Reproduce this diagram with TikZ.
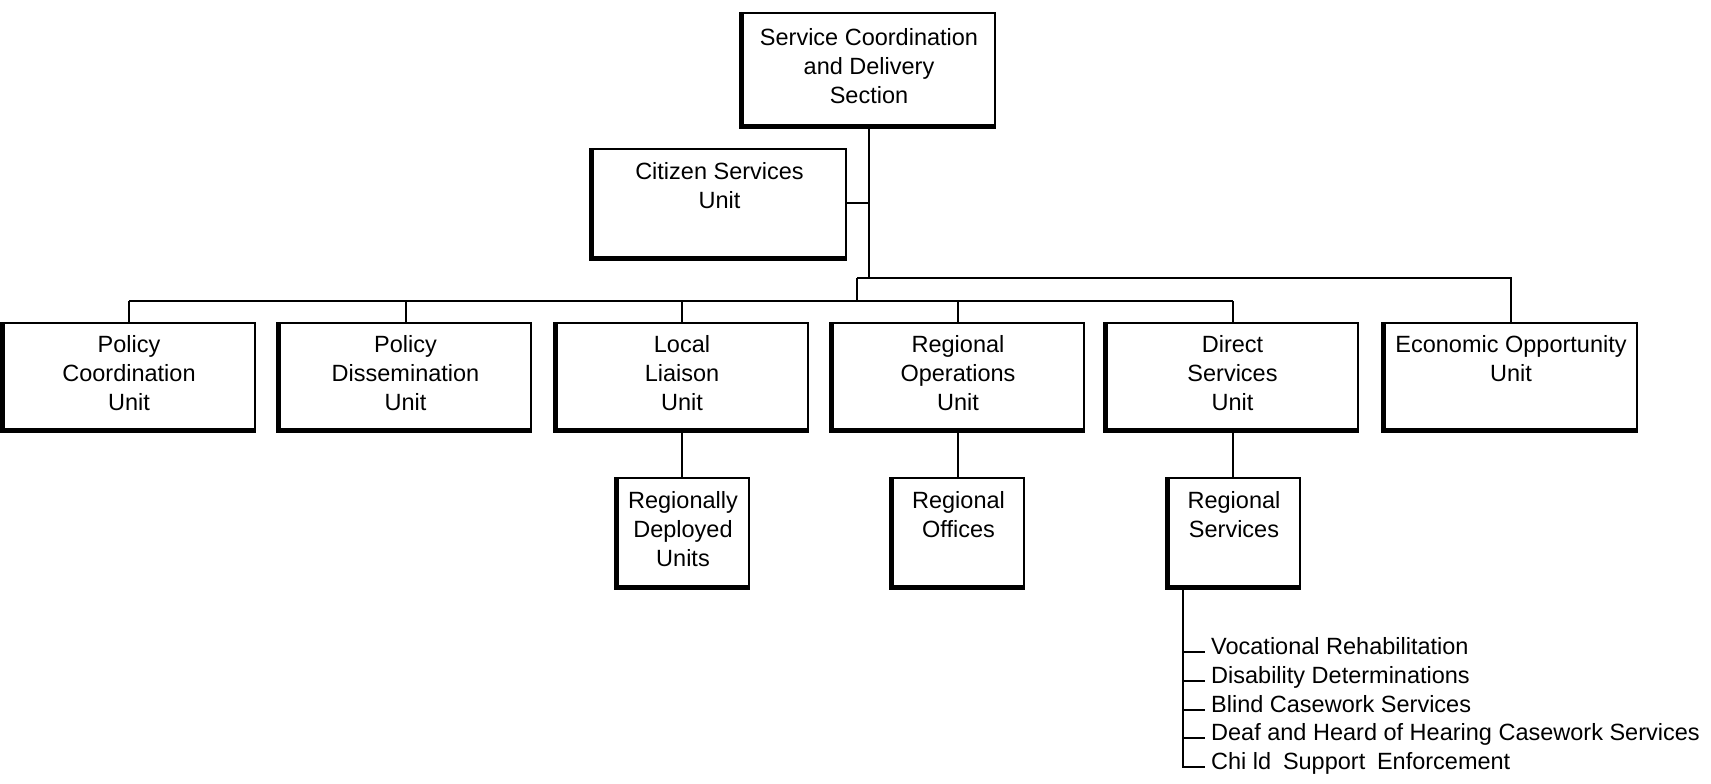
\documentclass[tikz,border=0pt]{standalone}
\usepackage{fontspec}
\setmainfont{Liberation Sans}
\begin{document}
\begin{tikzpicture}[x=1pt,y=-1pt,
  txt/.style={font=\fontsize{23.5}{29}\selectfont},
  unitbox/.style={txt, draw, line width=2pt, align=center, inner sep=0pt, minimum height=106pt},
  wide/.style={unitbox, minimum width=251pt},
  narrow/.style={unitbox, minimum width=131pt, minimum height=108pt},
  link/.style={line width=2pt},
  item/.style={txt, anchor=base west, inner sep=0pt}]
\useasboundingbox (0,0) rectangle (1711,784);

% head of section and staff unit
\node[wide, minimum width=252pt, minimum height=112pt] (top) at (869,69)
  {\strut Service Coordination\\\strut and Delivery\\\strut Section};
\node[wide, minimum width=253pt, minimum height=108pt] (cit) at (719.5,203)
  {\strut Citizen Services\\\strut Unit\\\strut};

% first row of units
\node[wide] (pc) at (129,376)   {\strut Policy\\\strut Coordination\\\strut Unit};
\node[wide] (pd) at (405.5,376) {\strut Policy\\\strut Dissemination\\\strut Unit};
\node[wide] (ll) at (682,376)   {\strut Local\\\strut Liaison\\\strut Unit};
\node[wide] (ro) at (958,376)   {\strut Regional\\\strut Operations\\\strut Unit};
\node[wide] (ds) at (1232.5,376){\strut Direct\\\strut Services\\\strut Unit};
\node[wide, minimum width=252pt] (eo) at (1511,376)
  {\strut Economic Opportunity\\\strut Unit\\\strut};

% field level
\node[narrow] (rdu)  at (683,532)    {\strut Regionally\\\strut Deployed\\\strut Units};
\node[narrow] (roff) at (958.5,532)  {\strut Regional\\\strut Offices\\\strut};
\node[narrow] (rs)   at (1234,532)   {\strut Regional\\\strut Services\\\strut};

% heavy left and bottom edges
\foreach \n in {top,cit,pc,pd,ll,ro,ds,eo,rdu,roff,rs}
  \draw[line width=3pt] ([shift={(-1.5,0)}]\n.north west)
    -- ([shift={(-1.5,1.5)}]\n.south west) -- ([shift={(0,1.5)}]\n.south east);

% connectors
\coordinate (upA) at (857,278);
\coordinate (lowA) at (857,301);
\draw[link] (top.south) -- (top.south |- upA);
\draw[link] (cit.east) -- (cit.east -| top.south);
\draw[link] (upA) -- (upA -| eo.north) -- (eo.north);
\draw[link] (upA) -- (lowA);
\draw[link] (pc.north |- lowA) -- (ds.north |- lowA);
\foreach \n in {pc,pd,ll,ro,ds}
  \draw[link] (\n.north |- lowA) -- (\n.north);
\draw[link] (ll.south) -- (ll.south |- rdu.north);
\draw[link] (ro.south) -- (ro.south |- roff.north);
\draw[link] (ds.south) -- (ds.south |- rs.north);

% programme list under Regional Services
\node[item] (i1) at (1211,654.5) {Vocational Rehabilitation};
\node[item] (i2) at (1211,683.5) {Disability Determinations};
\node[item] (i3) at (1211,712.5) {Blind Casework Services};
\node[item] (i4) at (1211,740.5) {Deaf and Heard of Hearing Casework Services};
\node[item] (i5) at (1211,769.5) {Chi ld\enspace Support\enspace Enforcement};
\coordinate (brTop) at ([xshift=15pt]rs.south west);
\draw[link] (brTop) -- (brTop |- i5.mid west) -- ([xshift=-6pt]i5.mid west);
\foreach \n in {i1,i2,i3,i4}
  \draw[link] (brTop |- \n.mid west) -- ([xshift=-6pt]\n.mid west);
\end{tikzpicture}
\end{document}
